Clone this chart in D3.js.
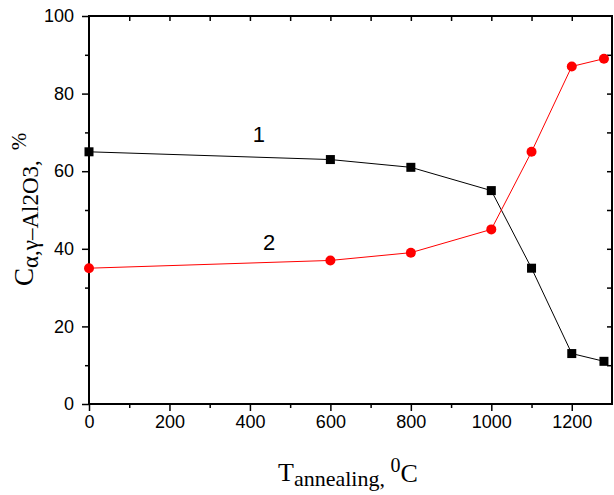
<!DOCTYPE html>
<html>
<head>
<meta charset="utf-8">
<script src="https://cdn.jsdelivr.net/npm/d3@7"></script>
<style>
  body { margin: 0; background: #fff; }
  svg text { font-family: "Liberation Sans", Arial, sans-serif; }
  .serif { font-family: "Liberation Serif", "Times New Roman", serif; }
</style>
</head>
<body>
<svg id="chart"></svg>
<script>
// annealing temperature (C)
const temps = [0, 600, 800, 1000, 1100, 1200, 1280];
// curve 1 (black squares) and curve 2 (red circles), %
const curve1 = [65, 63, 61, 55, 35, 13, 11];
const curve2 = [35, 37, 39, 45, 65, 87, 89];
const xTicks = [0, 200, 400, 600, 800, 1000, 1200];
const yTicks = [0, 20, 40, 60, 80, 100];

const width = 614, height = 495;
const margin = { top: 16, right: 2, bottom: 91, left: 89 };
const w = width - margin.left - margin.right;
const h = height - margin.top - margin.bottom;

const svg = d3.select("#chart").attr("width", width).attr("height", height);
const g = svg.append("g").attr("transform", `translate(${margin.left},${margin.top})`);

const x = d3.scaleLinear().domain([0, 1300]).range([0, w]);
const y = d3.scaleLinear().domain([0, 100]).range([h, 0]);

// minor ticks (outside, left and bottom)
g.append("g").attr("transform", `translate(0,${h})`)
  .call(d3.axisBottom(x).tickValues(d3.range(100, 1300, 200)).tickSize(4).tickFormat(""))
  .call(a => a.select(".domain").remove())
  .call(a => a.selectAll("line").attr("stroke-width", 1.5));
g.append("g")
  .call(d3.axisLeft(y).tickValues(d3.range(10, 100, 20)).tickSize(4).tickFormat(""))
  .call(a => a.select(".domain").remove())
  .call(a => a.selectAll("line").attr("stroke-width", 1.5));

// top and right mirrored ticks (inside)
g.append("g")
  .call(d3.axisTop(x).tickValues(d3.range(100, 1300, 100)).tickSize(-5).tickFormat(""))
  .call(a => a.select(".domain").remove())
  .call(a => a.selectAll("line").attr("stroke-width", 1.5));
g.append("g").attr("transform", `translate(${w},0)`)
  .call(d3.axisRight(y).tickValues(d3.range(10, 100, 10)).tickSize(-5).tickFormat(""))
  .call(a => a.select(".domain").remove())
  .call(a => a.selectAll("line").attr("stroke-width", 1.5));

// major axes
const xAxis = g.append("g").attr("transform", `translate(0,${h})`)
  .call(d3.axisBottom(x).tickValues(xTicks).tickFormat(d3.format("d"))
    .tickSize(7).tickPadding(4).tickSizeOuter(0));
const yAxis = g.append("g")
  .call(d3.axisLeft(y).tickValues(yTicks).tickFormat(d3.format("d"))
    .tickSize(7).tickPadding(8).tickSizeOuter(0));
[xAxis, yAxis].forEach(a => {
  a.selectAll("line").attr("stroke-width", 1.5);
  a.selectAll("text").attr("font-size", 18).attr("fill", "#000")
    .style("font-family", "'Liberation Sans', Arial, sans-serif");
  a.select(".domain").remove();
});

// frame
g.append("rect").attr("width", w).attr("height", h)
  .attr("fill", "none").attr("stroke", "#000").attr("stroke-width", 2);

const line = d3.line().x(d => x(d[0])).y(d => y(d[1]));
const pts1 = temps.map((t, i) => [t, curve1[i]]);
const pts2 = temps.map((t, i) => [t, curve2[i]]);

g.append("path").datum(pts1).attr("d", line)
  .attr("fill", "none").attr("stroke", "#000").attr("stroke-width", 1);
g.append("path").datum(pts2).attr("d", line)
  .attr("fill", "none").attr("stroke", "#ff0000").attr("stroke-width", 1);

g.selectAll(".sq").data(pts1).join("rect").attr("class", "sq")
  .attr("x", d => x(d[0]) - 4.5).attr("y", d => y(d[1]) - 4.5)
  .attr("width", 9).attr("height", 9).attr("fill", "#000");
g.selectAll(".dot").data(pts2).join("circle").attr("class", "dot")
  .attr("cx", d => x(d[0])).attr("cy", d => y(d[1])).attr("r", 5)
  .attr("fill", "#ff0000");

// curve labels
g.append("text").attr("x", x(400) + 9).attr("y", y(67.5)).attr("text-anchor", "middle")
  .attr("font-size", 22).text("1");
g.append("text").attr("x", x(440) + 3).attr("y", y(39.8)).attr("text-anchor", "middle")
  .attr("font-size", 22).text("2");

// x title
const xt = svg.append("text").attr("class", "serif").attr("x", 278).attr("y", 481).attr("font-size", 26);
xt.append("tspan").text("T");
xt.append("tspan").attr("font-size", 22).attr("dy", 5).text("annealing, ");
xt.append("tspan").attr("font-size", 20).attr("dy", -14).text("0");
xt.append("tspan").attr("font-size", 26).attr("dy", 10).text("C");

// y title
const yt = svg.append("text").attr("class", "serif")
  .attr("transform", "translate(33,286) rotate(-90)").attr("font-size", 27);
yt.append("tspan").text("C");
yt.append("tspan").attr("font-size", 23).attr("dy", 5).text("α,γ–Al2O3,");
yt.append("tspan").attr("font-size", 21).attr("dx", 10).attr("dy", -12).text("%");
</script>
</body>
</html>
